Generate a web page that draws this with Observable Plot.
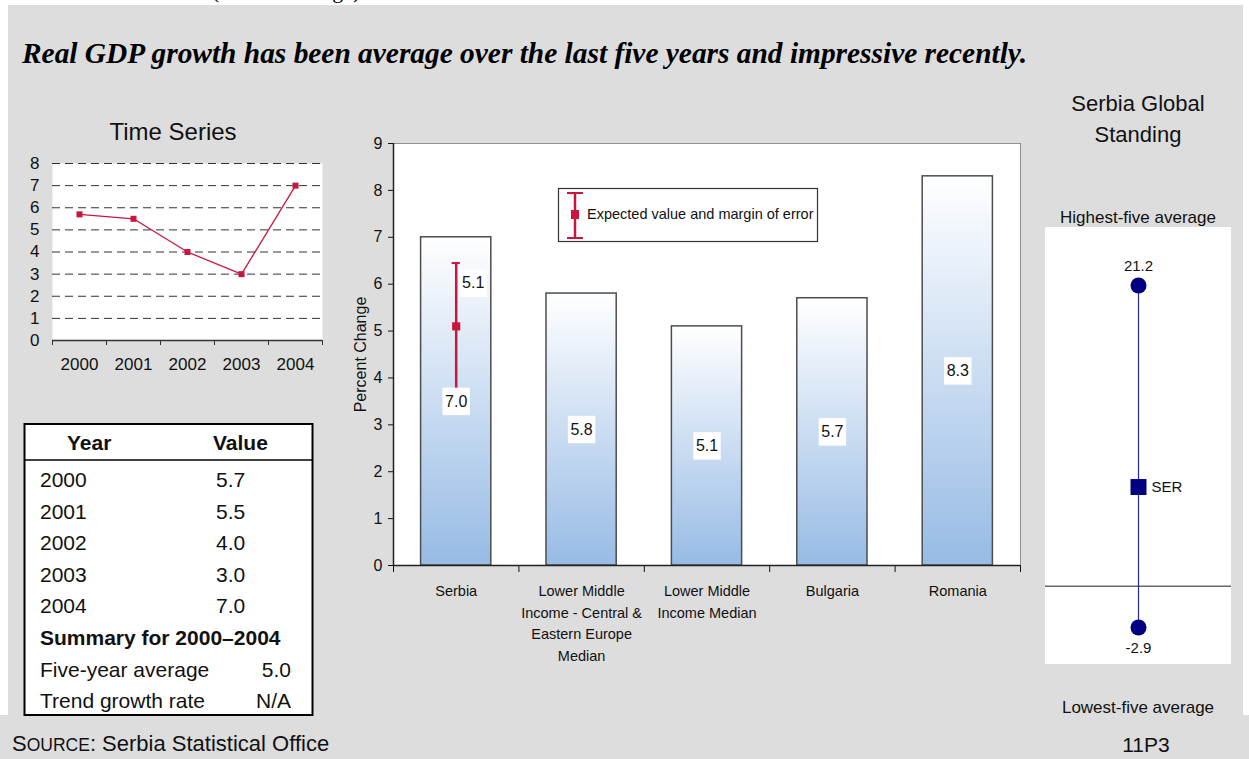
<!DOCTYPE html>
<html>
<head>
<meta charset="utf-8">
<script src="https://cdn.jsdelivr.net/npm/d3@7"></script>
<script src="https://cdn.jsdelivr.net/npm/@observablehq/plot@0.6"></script>
<style>
  body { margin: 0; background: #fff; }
  #page { position: relative; width: 1249px; height: 759px; overflow: hidden; font-family: Arial, "Liberation Sans", sans-serif; }
  #page > svg { position: absolute; }
</style>
</head>
<body>
<div id="page"></div>
<script>
// ---- data ----
const years = [2000, 2001, 2002, 2003, 2004];
const growth = [5.7, 5.5, 4.0, 3.0, 7.0];
const summaryLabels = ["Five-year average", "Trend growth rate"];
const summaryValues = ["5.0", "N/A"];

const categories = [
  "Serbia",
  "Lower Middle\nIncome - Central &\nEastern Europe\nMedian",
  "Lower Middle\nIncome Median",
  "Bulgaria",
  "Romania"
];
const categoryValues = [7.0, 5.8, 5.1, 5.7, 8.3];
const expectedValue = 5.1;
const errorLow = 3.75;
const errorHigh = 6.45;

const standingHigh = 21.2;
const standingLow = -2.9;
const standingSerbia = 7.0;
const standingCode = "SER";

const crimson = "#c9163f";
const navy = "#000080";
const panelGray = "#dddddd";
const font = "Arial, 'Liberation Sans', sans-serif";

const page = d3.select("#page");

// ---- static layer: panels, headings, table, legend, footer ----
const bg = page.append("svg").attr("width", 1249).attr("height", 759).style("left", "0px").style("top", "0px");
bg.append("text").attr("x", 212).attr("y", -2).attr("font-family", "'Liberation Serif', 'Times New Roman', serif")
  .attr("font-size", 22).text("(Percent change)");
bg.append("rect").attr("x", 8).attr("y", 5).attr("width", 1235).attr("height", 710).attr("fill", panelGray);
bg.append("rect").attr("x", 0).attr("y", 715).attr("width", 1249).attr("height", 44).attr("fill", panelGray);

bg.append("text").attr("x", 22).attr("y", 63)
  .attr("font-family", "'Liberation Serif', 'Times New Roman', serif")
  .attr("font-size", 29.4).attr("font-weight", "bold").attr("font-style", "italic").attr("fill", "#000")
  .text("Real GDP growth has been average over the last five years and impressive recently.");

const txt = (x, y, s, size, anchor = "start", weight = "normal") =>
  bg.append("text").attr("x", x).attr("y", y).attr("font-family", font).attr("font-size", size)
    .attr("text-anchor", anchor).attr("font-weight", weight).attr("fill", "#111").text(s);

txt(173, 140, "Time Series", 24, "middle");
txt(1138, 111, "Serbia Global", 22, "middle");
txt(1138, 142, "Standing", 22, "middle");
txt(1138, 223, "Highest-five average", 17, "middle");
txt(1138, 713, "Lowest-five average", 17, "middle");

// footer
const src = bg.append("text").attr("x", 12).attr("y", 751).attr("font-family", font).attr("font-size", 22).attr("fill", "#111");
src.append("tspan").text("S");
src.append("tspan").attr("font-size", 17.5).text("OURCE");
src.append("tspan").text(": Serbia Statistical Office");
txt(1146, 752, "11P3", 21, "middle");

// data table
bg.append("rect").attr("x", 24.5).attr("y", 424).attr("width", 288).attr("height", 291)
  .attr("fill", "white").attr("stroke", "#000").attr("stroke-width", 2);
bg.append("line").attr("x1", 24.5).attr("x2", 312.5).attr("y1", 460).attr("y2", 460).attr("stroke", "#000").attr("stroke-width", 1.5);
txt(67, 450, "Year", 21, "start", "bold");
txt(213, 450, "Value", 21, "start", "bold");
const rowY = k => 487 + k * 31.6;
years.forEach((yr, k) => {
  txt(40, rowY(k), String(yr), 21);
  txt(216, rowY(k), growth[k].toFixed(1), 21);
});
txt(40, rowY(5), `Summary for ${years[0]}\u2013${years[years.length - 1]}`, 21, "start", "bold");
summaryLabels.forEach((lab, j) => {
  txt(40, rowY(6 + j), lab, 21);
  txt(291, rowY(6 + j), summaryValues[j], 21, "end");
});

// ---- time series chart ----
const tsData = years.map((year, i) => ({year, value: growth[i]}));
const yearEdges = d3.range(years[0] - 0.5, years[years.length - 1] + 1, 1);
const ts = Plot.plot({
  width: 340, height: 250,
  marginLeft: 52, marginRight: 18, marginTop: 23, marginBottom: 50,
  style: {background: "none", fontFamily: font, fontSize: "17px", color: "#111"},
  x: {domain: [yearEdges[0], yearEdges[yearEdges.length - 1]], label: null},
  y: {domain: [0, 8], label: null},
  marks: [
    Plot.frame({fill: "white", stroke: null}),
    Plot.ruleY(d3.range(1, 9), {stroke: "#333", strokeWidth: 1, strokeDasharray: "8,5"}),
    Plot.axisY(d3.range(0, 9), {tickSize: 0, tickPadding: 13, fontSize: 17, tickFormat: d => String(d)}),
    Plot.axisX(yearEdges, {tickSize: 5, tickFormat: () => "", stroke: "#333"}),
    Plot.axisX(years, {tickSize: 0, tickPadding: 17, fontSize: 17, tickFormat: d => String(d)}),
    Plot.ruleY([0], {stroke: "#333", strokeWidth: 1.5}),
    Plot.line(tsData, {x: "year", y: "value", stroke: crimson, strokeWidth: 1.3}),
    Plot.dot(tsData, {x: "year", y: "value", symbol: "square", r: 3.4, fill: crimson})
  ]
});
d3.select(ts).style("left", "0px").style("top", "140px");
page.node().appendChild(ts);

// ---- comparison bar chart ----
const barData = categories.map((name, i) => ({name, i, value: categoryValues[i]}));
const barPad = 0.22;
const capHalf = 0.033;
const errData = [{i: 0, lo: errorLow, hi: errorHigh, est: expectedValue}];
const mid = d => d.i + 0.5;

const gradientDefs = () => {
  const defs = d3.create("svg:defs");
  const g = defs.append("linearGradient").attr("id", "barFill")
    .attr("x1", 0).attr("y1", 0).attr("x2", 0).attr("y2", 1);
  g.append("stop").attr("offset", "0%").attr("stop-color", "#ffffff");
  g.append("stop").attr("offset", "100%").attr("stop-color", "#97bbe5");
  return defs.node();
};

const bars = Plot.plot({
  width: 700, height: 560,
  marginLeft: 53, marginRight: 20, marginTop: 13, marginBottom: 125,
  style: {background: "none", fontFamily: font, fontSize: "15px", color: "#111"},
  x: {domain: [0, categories.length], label: null},
  y: {domain: [0, 9], label: null},
  marks: [
    gradientDefs,
    Plot.frame({fill: "white", stroke: "#8f8f8f"}),
    Plot.rect(barData, {x1: d => d.i + barPad, x2: d => d.i + 1 - barPad, y1: 0, y2: "value",
      fill: "url(#barFill)", stroke: "#4d4d4d", strokeWidth: 1.5}),
    Plot.ruleX(errData, {x: mid, y1: "lo", y2: "hi", stroke: crimson, strokeWidth: 2.5}),
    Plot.ruleY(errData, {y: "hi", x1: d => mid(d) - capHalf, x2: d => mid(d) + capHalf, stroke: crimson, strokeWidth: 2}),
    Plot.ruleY(errData, {y: "lo", x1: d => mid(d) - capHalf, x2: d => mid(d) + capHalf, stroke: crimson, strokeWidth: 2}),
    Plot.dot(errData, {x: mid, y: "est", symbol: "square", r: 4.6, fill: crimson}),
    Plot.dot(errData, {x: mid, y: "est", symbol: "square", r: 15.5, fill: "white", dx: 17, dy: -43}),
    Plot.text(errData, {x: mid, y: "est", text: d => d.est.toFixed(1), dx: 17, dy: -43, fontSize: 16}),
    Plot.dot(barData, {x: mid, y: d => d.value / 2, symbol: "square", r: 15.5, fill: "white"}),
    Plot.text(barData, {x: mid, y: d => d.value / 2, text: d => d.value.toFixed(1), fontSize: 16}),
    Plot.axisY(d3.range(0, 10), {tickSize: 5, tickPadding: 6, fontSize: 16, tickFormat: d => String(d)}),
    Plot.axisX(d3.range(0, categories.length + 1), {tickSize: 7, tickFormat: () => ""}),
    Plot.ruleX([0], {stroke: "#222", strokeWidth: 1.5}),
    Plot.ruleY([0], {stroke: "#222", strokeWidth: 1.5}),
    Plot.text(barData, {x: mid, y: 0, text: "name", lineAnchor: "top", dy: 15, lineHeight: 1.5, fontSize: 14.5}),
    Plot.text(["Percent Change"], {frameAnchor: "left", rotate: -90, dx: -33, textAnchor: "middle", fontSize: 16})
  ]
});
d3.select(bars).style("left", "340px").style("top", "130px");
page.node().appendChild(bars);

// legend for the error bar
const lg = page.append("svg").attr("width", 262).attr("height", 56).style("left", "557px").style("top", "187px");
lg.append("rect").attr("x", 1.5).attr("y", 1.5).attr("width", 259).attr("height", 53).attr("fill", "white").attr("stroke", "#333").attr("stroke-width", 1.2);
lg.append("line").attr("x1", 18).attr("x2", 18).attr("y1", 6).attr("y2", 51).attr("stroke", crimson).attr("stroke-width", 2.5);
lg.append("line").attr("x1", 10).attr("x2", 26).attr("y1", 6).attr("y2", 6).attr("stroke", crimson).attr("stroke-width", 2);
lg.append("line").attr("x1", 10).attr("x2", 26).attr("y1", 51).attr("y2", 51).attr("stroke", crimson).attr("stroke-width", 2);
lg.append("rect").attr("x", 14).attr("y", 23).attr("width", 8).attr("height", 9).attr("fill", crimson);
lg.append("text").attr("x", 30).attr("y", 32).attr("font-family", font).attr("font-size", 14.5).attr("fill", "#111")
  .text("Expected value and margin of error");

// ---- global standing strip ----
const extremes = [{value: standingHigh}, {value: standingLow}];
const standing = Plot.plot({
  width: 186, height: 437,
  marginTop: 58, marginBottom: 37, marginLeft: 0, marginRight: 0,
  style: {background: "white", fontFamily: font, fontSize: "15px", color: "#111"},
  x: {domain: [-1, 1], axis: null},
  y: {domain: [standingLow, standingHigh], axis: null},
  marks: [
    Plot.ruleY([0], {stroke: "#666", strokeWidth: 1.5}),
    Plot.ruleX([0], {y1: standingLow, y2: standingHigh, stroke: "#2a2a90", strokeWidth: 1.2}),
    Plot.dot(extremes, {x: 0, y: "value", r: 8, fill: navy}),
    Plot.text(extremes.slice(0, 1), {x: 0, y: "value", text: d => d.value.toFixed(1), dy: -19, fontSize: 15}),
    Plot.text(extremes.slice(1), {x: 0, y: "value", text: d => d.value.toFixed(1), dy: 21, fontSize: 15}),
    Plot.dot([standingSerbia], {x: 0, y: d => d, symbol: "square", r: 9, fill: navy}),
    Plot.text([standingSerbia], {x: 0, y: d => d, text: () => standingCode, dx: 13, textAnchor: "start", fontSize: 15})
  ]
});
d3.select(standing).style("left", "1045px").style("top", "227px");
page.node().appendChild(standing);
</script>
</body>
</html>
